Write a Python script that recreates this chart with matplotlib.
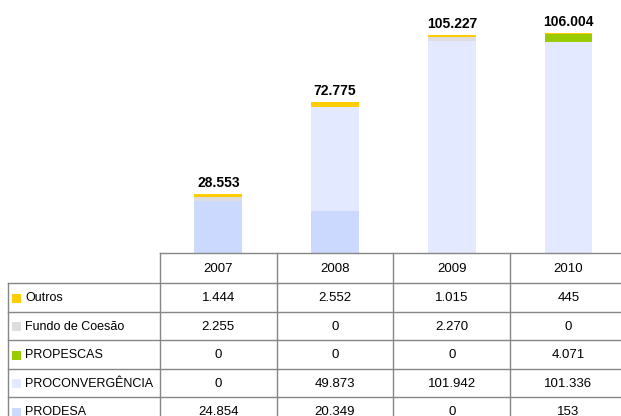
import matplotlib
matplotlib.use("Agg")
import matplotlib.pyplot as plt
from matplotlib.patches import Rectangle

plt.rcParams['font.family'] = ['Liberation Sans', 'DejaVu Sans']

# --- data ---
years = ['2007', '2008', '2009', '2010']
series = ['Outros', 'Fundo de Coesão', 'PROPESCAS', 'PROCONVERGÊNCIA', 'PRODESA']
outros = [1.444, 2.552, 1.015, 0.445]
fundo_coesao = [2.255, 0, 2.270, 0]
propescas = [0, 0, 0, 4.071]
proconvergencia = [0, 49.873, 101.942, 101.336]
prodesa = [24.854, 20.349, 0, 0.153]
totals = [28.553, 72.775, 105.227, 106.004]
colors = ['#FFCC00', '#DDDDDD', '#99CC00', '#E3E9FF', '#CCD9FF']

W, H = 621, 416
fig = plt.figure(figsize=(W / 100, H / 100), dpi=100)

# layout in pixels
tab_left = 160
col_w = 116.7
base_y = 253
head_h = 30
row_h = 28.5

# --- stacked bars ---
ax = fig.add_axes([tab_left / W, (H - base_y) / H, 4 * col_w / W, base_y / H])
x = range(len(years))
stack = [prodesa, proconvergencia, propescas, fundo_coesao, outros]
stack_colors = colors[::-1]
bottom = [0] * len(years)
for vals, c in zip(stack, stack_colors):
    ax.bar(x, vals, bottom=bottom, width=0.41, color=c, linewidth=0)
    bottom = [b + v for b, v in zip(bottom, vals)]
for i, t in enumerate(totals):
    ax.text(i, bottom[i] + 1.8, f'{t:.3f}', ha='center', va='bottom',
            fontsize=10, fontweight='bold', color='#000000')
ax.set_xlim(-0.5, 3.5)
ax.set_ylim(0, 121.9)
ax.axis('off')

# --- data table ---
tx = fig.add_axes([0, 0, 1, 1])
tx.set_xlim(0, W)
tx.set_ylim(H, 0)
tx.axis('off')
lc = '#868686'
table_rows = [outros, fundo_coesao, propescas, proconvergencia, prodesa]


def fmt(v):
    if v == 0:
        return '0'
    n = int(round(v * 1000))
    return f'{n:,}'.replace(',', '.')


col_edges = [tab_left + i * col_w for i in range(5)]
tx.plot([tab_left, W], [base_y, base_y], color=lc, lw=1)
for r in range(len(series) + 1):
    y = base_y + head_h + r * row_h
    tx.plot([8, W], [y, y], color=lc, lw=1)
tx.plot([8, 8], [base_y + head_h, H], color=lc, lw=1)
for xe in col_edges:
    tx.plot([xe, xe], [base_y, H], color=lc, lw=1)

for j, yr in enumerate(years):
    tx.text(tab_left + (j + 0.5) * col_w, base_y + head_h / 2 + 1, yr,
            ha='center', va='center', fontsize=9.5, color='#000000')

for r, (name, vals) in enumerate(zip(series, table_rows)):
    yc = base_y + head_h + (r + 0.5) * row_h + 1
    tx.add_patch(Rectangle((12, yc - 4.5), 9, 9, color=colors[r], lw=0))
    tx.text(25, yc, name, ha='left', va='center', fontsize=9, color='#000000')
    for j, v in enumerate(vals):
        tx.text(tab_left + (j + 0.5) * col_w, yc, fmt(v),
                ha='center', va='center', fontsize=9.5, color='#000000')

fig.savefig('out.png', dpi=100)
